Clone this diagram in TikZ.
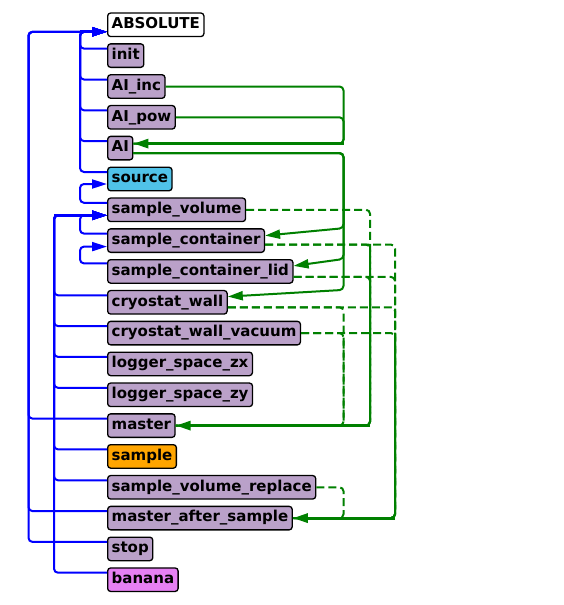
\documentclass[tikz,border=0pt]{standalone}
\usepackage{fontspec}
\setmainfont{DejaVu Sans}
\usetikzlibrary{calc,arrows.meta}
\definecolor{nodepurple}{RGB}{186,161,201}
\definecolor{nodecyan}{RGB}{80,194,232}
\definecolor{nodeorange}{RGB}{255,165,0}
\definecolor{nodeviolet}{RGB}{230,128,243}
\definecolor{edgeblue}{RGB}{0,0,255}
\definecolor{edgegreen}{RGB}{0,128,0}
\tikzset{
  box/.style={draw=black, line width=1.3pt, rounded corners=3pt, fill=nodepurple,
    anchor=west, inner xsep=4pt, inner ysep=0pt, minimum height=23.5pt,
    text height=11pt, text depth=3.5pt,
    font=\bfseries\fontsize{15}{18}\selectfont},
  arr/.style={-{Triangle[length=15pt,width=9pt]}},
  bl/.style={draw=edgeblue, line width=2pt, rounded corners=4pt},
  blthick/.style={bl, line width=3pt, arr},
  gr/.style={draw=edgegreen, line width=2pt, rounded corners=4pt},
  grthick/.style={gr, line width=3pt, arr},
  grdash/.style={gr, dash pattern=on 8pt off 4pt},
}
\begin{document}
\begin{tikzpicture}[x=1pt,y=-1pt]
\useasboundingbox (0,0) rectangle (564,605);
% nodes
\node[box, fill=white] (abs) at (107,24.8) {ABSOLUTE};
\node[box] (init)  at (107,55.6)  {init};
\node[box] (aiinc) at (107,86.5)  {AI\_inc};
\node[box] (aipow) at (107,117.3) {AI\_pow};
\node[box] (ai)    at (107,148.1) {AI};
\node[box, fill=nodecyan] (src) at (107,179.0) {source};
\node[box] (sv)    at (107,209.8) {sample\_volume};
\node[box] (sc)    at (107,240.6) {sample\_container};
\node[box] (lid)   at (107,271.4) {sample\_container\_lid};
\node[box] (cw)    at (107,302.3) {cryostat\_wall};
\node[box] (vac)   at (107,333.1) {cryostat\_wall\_vacuum};
\node[box] (zx)    at (107,363.9) {logger\_space\_zx};
\node[box] (zy)    at (107,394.8) {logger\_space\_zy};
\node[box] (mst)   at (107,425.6) {master};
\node[box, fill=nodeorange] (smp) at (107,456.4) {sample};
\node[box] (svr)   at (107,487.3) {sample\_volume\_replace};
\node[box] (mas)   at (107,518.1) {master\_after\_sample};
\node[box] (stp)   at (107,548.9) {stop};
\node[box, fill=nodeviolet] (ban) at (107,579.7) {banana};
% trunk positions
\coordinate (bo) at (28.5,0);
\coordinate (bm) at (54,0);
\coordinate (bi) at (80,0);
\coordinate (g1) at (343.5,0);
\coordinate (g2) at (370,0);
\coordinate (g3) at (395,0);
% arrow entry points
\coordinate (absin) at ($(abs.west)+(0,7)$);
\coordinate (srcin) at ($(src.west)+(0,5)$);
\coordinate (svin)  at ($(sv.west)+(0,5.5)$);
\coordinate (scin)  at ($(sc.west)+(0,6)$);
% blue edges to ABSOLUTE
\foreach \n in {init,aiinc,aipow,ai,src}{
  \draw[bl,arr] ($(\n.west)+(0,-7)$) -| (bi |- absin) -- (absin);
}
\foreach \n in {mst,mas,stp}{
  \draw[bl,arr] ($(\n.west)+(0,-7)$) -| (bo |- absin) -- (absin);
}
\draw[blthick] (bi |- absin) -- (absin);
% blue edges to source
\draw[bl,arr] ($(sv.west)+(0,-7)$) -| (bi |- srcin) -- (srcin);
% blue edges to sample_volume
\draw[bl,arr] ($(sc.west)+(0,-7)$) -| (bi |- svin) -- (svin);
\foreach \n in {cw,vac,zx,zy,smp,svr,ban}{
  \draw[bl,arr] ($(\n.west)+(0,-7)$) -| (bm |- svin) -- (svin);
}
\draw[blthick] (bm |- svin) -- (svin);
% blue edge to sample_container
\draw[bl,arr] ($(lid.west)+(0,-8)$) -| (bi |- scin) -- (scin);
% green solid: AI_inc, AI_pow -> AI
\coordinate (aiin) at ($(ai.east)+(0,-4.5)$);
\draw[gr] (aiinc.east) -| (g1 |- aiin) -- (aiin);
\draw[gr] (aipow.east) -| (g1 |- aiin) -- (aiin);
\draw[grthick] (g1 |- aiin) -- (aiin);
% green solid: AI -> volumes
\coordinate (aiout) at ($(ai.east)+(0,5)$);
\draw[gr,arr] (aiout) -| (g1 |- sc.north) -- ($(sc.east)+(0,-5)$);
\draw[gr,arr] (aiout) -| (g1 |- lid.north) -- ($(lid.east)+(0,-5.5)$);
\draw[gr,arr] (aiout) -| (g1 |- cw.north) -- ($(cw.east)+(0,-5.7)$);
% green dashed: volumes -> master / master_after_sample
\coordinate (scout)  at ($(sc.east)+(0,4)$);
\coordinate (lidout) at ($(lid.east)+(0,5.5)$);
\coordinate (cwout)  at ($(cw.east)+(0,5)$);
\draw[grdash] (sv.east) -| (g2 |- mst.east) -- (mst.east);
\draw[grdash] (scout) -| (g2 |- mst.east) -- (mst.east);
\draw[grdash] (scout) -| (g3 |- mas.east) -- (mas.east);
\draw[grdash] (lidout) -| (g2 |- mst.east) -- (mst.east);
\draw[grdash] (lidout) -| (g3 |- mas.east) -- (mas.east);
\draw[grdash] (cwout) -| (g1 |- mst.east) -- (mst.east);
\draw[grdash] (cwout) -| (g3 |- mas.east) -- (mas.east);
\draw[grdash] (vac.east) -| (g1 |- mst.east) -- (mst.east);
\draw[grdash] (vac.east) -| (g3 |- mas.east) -- (mas.east);
\draw[grdash] (svr.east) -| (g1 |- mas.east) -- (mas.east);
% merged (overlapping) segments
\draw[gr] (g2 |- lidout) -- (g2 |- mst.east) -- ($(g2 |- mst.east)+(-10,0)$);
\draw[grthick] (g2 |- mst.east) -- (mst.east);
\draw[gr] (g3 |- vac.east) -- (g3 |- mas.east) -- ($(g3 |- mas.east)+(-10,0)$);
\draw[grthick] (g3 |- mas.east) -- (mas.east);
\end{tikzpicture}
\end{document}
